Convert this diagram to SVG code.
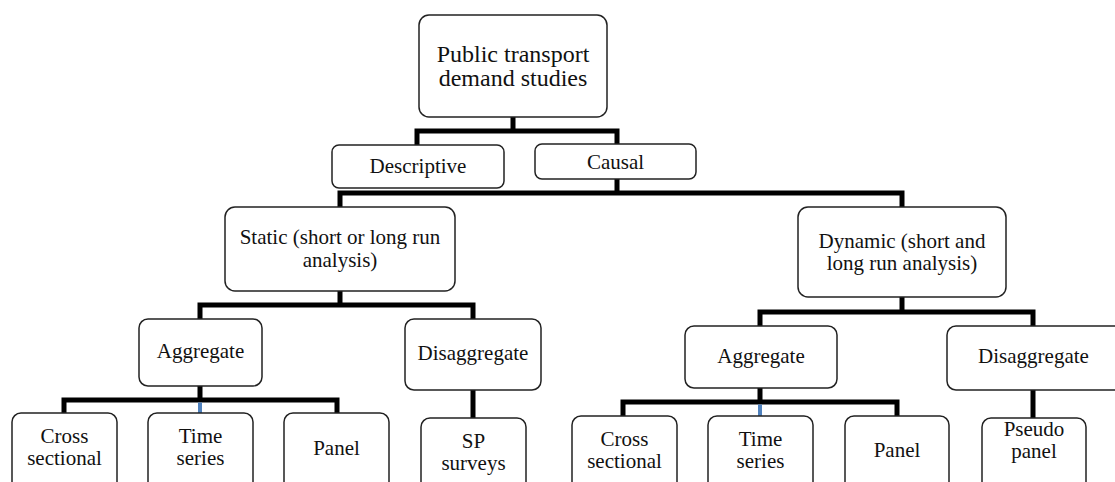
<svg xmlns="http://www.w3.org/2000/svg" width="1115" height="482" viewBox="0 0 1115 482">
<style>
.box{fill:#fff;stroke:#222;stroke-width:1.5}
text{font-family:'Liberation Serif','DejaVu Serif',serif;font-size:21px;fill:#111;text-anchor:middle}
.big{font-size:24px}
.c{fill:none;stroke:#000;stroke-width:5;stroke-linejoin:miter;stroke-linecap:butt}
.blue{fill:none;stroke:#4f81bd;stroke-width:4}
</style>
<rect width="1115" height="482" fill="#fff"/>
<g id="connectors">
<path class="c" d="M513,117V131M417,145V131H617V144"/>
<path class="c" d="M617,179V193M340,207V193H902V207"/>
<path class="c" d="M340,291V305M200,319V305H473V319"/>
<path class="c" d="M200,386V400M64,413V400H337V413"/>
<path class="blue" d="M200,402.5V413"/>
<path class="c" d="M473,390V418"/>
<path class="c" d="M902,297V312M760,326V312H1033V326"/>
<path class="c" d="M760,388V402M623,416V402H897V416"/>
<path class="blue" d="M760,404.5V416"/>
<path class="c" d="M1033,390V418"/>
</g>
<g id="root"><rect class="box" x="419" y="15" width="188" height="102" rx="10"/><text class="big" x="513" y="62">Public transport</text><text class="big" x="513" y="86">demand studies</text></g>
<g id="descriptive"><rect class="box" x="332" y="145" width="172" height="43" rx="7"/><text x="418" y="173">Descriptive</text></g>
<g id="causal"><rect class="box" x="535" y="144" width="161" height="35" rx="7"/><text x="615.5" y="169">Causal</text></g>
<g id="static"><rect class="box" x="225" y="207" width="230" height="84" rx="10"/><text x="340" y="244">Static (short or long run</text><text x="340" y="267">analysis)</text></g>
<g id="dynamic"><rect class="box" x="798" y="207" width="208" height="90" rx="10"/><text x="902" y="248">Dynamic (short and</text><text x="902" y="270">long run analysis)</text></g>
<g id="aggregate1"><rect class="box" x="139" y="319" width="123" height="67" rx="9"/><text x="200.5" y="358">Aggregate</text></g>
<g id="disaggregate1"><rect class="box" x="405" y="319" width="136" height="71" rx="9"/><text x="473" y="360">Disaggregate</text></g>
<g id="cross1"><rect class="box" x="12" y="413" width="105" height="85" rx="9"/><text x="64.5" y="443">Cross</text><text x="64.5" y="465">sectional</text></g>
<g id="time1"><rect class="box" x="148" y="413" width="105" height="85" rx="9"/><text x="200.5" y="443">Time</text><text x="200.5" y="465">series</text></g>
<g id="panel1"><rect class="box" x="284" y="413" width="105" height="85" rx="9"/><text x="336.5" y="455">Panel</text></g>
<g id="sp"><rect class="box" x="421" y="418" width="105" height="85" rx="9"/><text x="473.5" y="448">SP</text><text x="473.5" y="470">surveys</text></g>
<g id="aggregate2"><rect class="box" x="685" y="326" width="152" height="62" rx="9"/><text x="761" y="363">Aggregate</text></g>
<g id="disaggregate2"><rect class="box" x="947" y="326" width="180" height="64" rx="9"/><text x="1033.5" y="363">Disaggregate</text></g>
<g id="cross2"><rect class="box" x="572" y="416" width="105" height="85" rx="9"/><text x="624.5" y="446">Cross</text><text x="624.5" y="468">sectional</text></g>
<g id="time2"><rect class="box" x="708" y="416" width="105" height="85" rx="9"/><text x="760.5" y="446">Time</text><text x="760.5" y="468">series</text></g>
<g id="panel2"><rect class="box" x="845" y="416" width="104" height="85" rx="9"/><text x="897" y="457">Panel</text></g>
<g id="pseudo"><rect class="box" x="982" y="418" width="104" height="85" rx="9"/><text x="1034" y="436">Pseudo</text><text x="1034" y="458">panel</text></g>
</svg>
